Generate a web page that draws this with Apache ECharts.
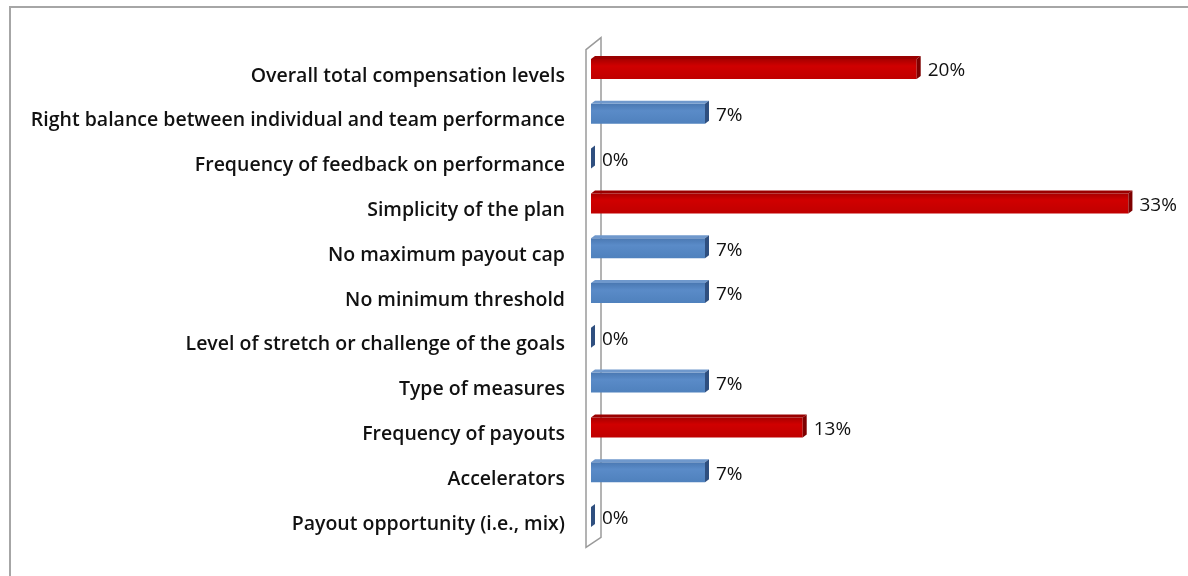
<!DOCTYPE html>
<html>
<head>
<meta charset="utf-8">
<script src="https://cdn.jsdelivr.net/npm/echarts@6/dist/echarts.min.js"></script>
<style>
  html, body { margin: 0; padding: 0; background: #ffffff; }
  #chart { width: 1188px; height: 576px; }
</style>
</head>
<body>
<div id="chart"></div>
<script>
// Survey answers, listed top to bottom
const categories = [
  'Overall total compensation levels',
  'Right balance between individual and team performance',
  'Frequency of feedback on performance',
  'Simplicity of the plan',
  'No maximum payout cap',
  'No minimum threshold',
  'Level of stretch or challenge of the goals',
  'Type of measures',
  'Frequency of payouts',
  'Accelerators',
  'Payout opportunity (i.e., mix)'
];
// Share of respondents (%)
const values = [20, 7, 0, 33, 7, 7, 0, 7, 13, 7, 0];
// Answers drawn in the accent colour
const accented = [true, false, false, true, false, false, false, false, true, false, false];
const axisMax = 35;

const GRID = { left: 591, top: 53.6, width: 570, height: 492.8 };
const BAR_H = 20, DEPTH_X = 4, DEPTH_Y = 3, BAR_SHIFT = -7;

const palettes = {
  red:  { front: ['#a80000', '#d00000', '#c00000'], top: '#9a0000', side: '#7e0000' },
  blue: { front: ['#4a78b2', '#5a8bc8', '#4f81bd'], top: '#6f98cc', side: '#2f4f7f' }
};

function renderBar(params, api) {
  const idx = api.value(1);
  const v = api.value(0);
  const p0 = api.coord([0, idx]);
  const p1 = api.coord([v, idx]);
  const x0 = p0[0], x1 = p1[0];
  const cy = p0[1] + BAR_SHIFT;
  const top = cy - BAR_H / 2, bot = cy + BAR_H / 2;
  const pal = accented[idx] ? palettes.red : palettes.blue;
  const grad = new echarts.graphic.LinearGradient(0, 0, 0, 1, [
    { offset: 0, color: pal.front[0] },
    { offset: 0.35, color: pal.front[1] },
    { offset: 1, color: pal.front[2] }
  ]);
  return {
    type: 'group',
    children: [
      { type: 'rect', shape: { x: x0, y: top, width: x1 - x0, height: BAR_H }, style: { fill: grad } },
      { type: 'polygon', shape: { points: [[x0, top], [x0 + DEPTH_X, top - DEPTH_Y], [x1 + DEPTH_X, top - DEPTH_Y], [x1, top]] }, style: { fill: pal.top } },
      { type: 'polygon', shape: { points: [[x1, top], [x1 + DEPTH_X, top - DEPTH_Y], [x1 + DEPTH_X, bot - DEPTH_Y], [x1, bot]] }, style: { fill: pal.side } },
      { type: 'text', x: x1 + DEPTH_X + 7, y: cy + 2, style: {
          text: v + '%', fill: '#111', font: '19px "Open Sans"', verticalAlign: 'middle', align: 'left'
      } }
    ]
  };
}

// Outline of the thin axis wall behind the bar roots
const gl = GRID.left, gt = GRID.top - 2, gb = GRID.top + GRID.height - 2;
const wall = [
  [gl - 5, gt - 2], [gl + 10, gt - 14], [gl + 10, gb - 7], [gl - 5, gb + 3]
];

const chart = echarts.init(document.getElementById('chart'), null, { renderer: 'canvas' });
chart.setOption({
  backgroundColor: '#ffffff',
  animation: false,
  grid: { left: GRID.left, top: GRID.top, width: GRID.width, height: GRID.height, containLabel: false },
  xAxis: {
    type: 'value', min: 0, max: axisMax,
    show: false
  },
  yAxis: {
    type: 'category', data: categories, inverse: true,
    axisLine: { show: false }, axisTick: { show: false }, splitLine: { show: false },
    axisLabel: { color: '#111', fontFamily: 'Open Sans', fontSize: 19.5, fontWeight: 600, margin: 26 }
  },
  graphic: [
    { type: 'rect', z: 0, shape: { x: 10, y: 7, width: 1300, height: 700 }, style: { fill: 'none', stroke: '#a6a6a6', lineWidth: 2 } },
    { type: 'polygon', z: 0, shape: { points: wall }, style: { fill: 'none', stroke: '#9a9a9a', lineWidth: 1.5 } }
  ],
  series: [{
    type: 'custom', z: 5,
    renderItem: renderBar,
    encode: { x: 0, y: 1 },
    data: values.map((v, i) => [v, i])
  }]
});
</script>
</body>
</html>
